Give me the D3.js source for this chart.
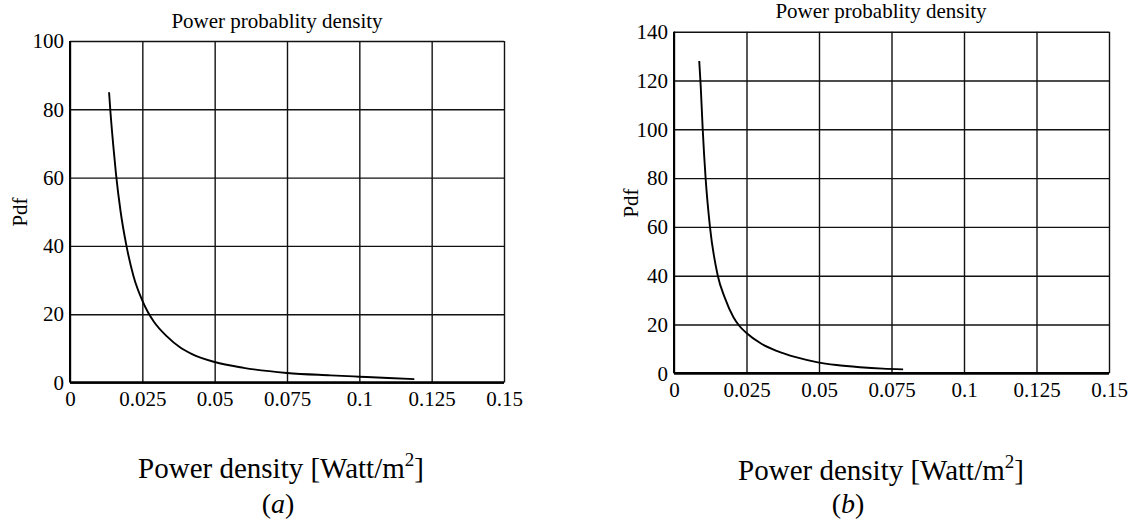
<!DOCTYPE html>
<html><head><meta charset="utf-8">
<script src="https://cdn.jsdelivr.net/npm/d3@7"></script>
<style>
body{margin:0;background:#fff}
svg{display:block}
text{font-family:"Liberation Serif","Times New Roman",serif;fill:#000}
</style>
</head><body>
<svg id="c" width="1129" height="523"></svg>
<script>
// ---- data ----
const xTicks = [0, 0.025, 0.05, 0.075, 0.1, 0.125, 0.15];
const xTickLabels = ["0", "0.025", "0.05", "0.075", "0.1", "0.125", "0.15"];
const yTicksA = [0, 20, 40, 60, 80, 100];
const yTicksB = [0, 20, 40, 60, 80, 100, 120, 140];

const powerA = [0.0135, 0.0140, 0.0150, 0.0159, 0.0175, 0.0194, 0.0220, 0.0250, 0.0270, 0.0290, 0.0335, 0.0380, 0.0420, 0.0500, 0.0600, 0.0750, 0.0900, 0.1000, 0.1100, 0.1190];
const pdfA   = [85, 79, 69, 61, 50, 40.5, 31, 24, 20.5, 17.8, 13.5, 10.3, 8.4, 6.0, 4.3, 2.8, 2.1, 1.7, 1.3, 1.0];

const powerB = [0.0087, 0.0092, 0.0099, 0.0109, 0.0124, 0.0151, 0.0175, 0.0205, 0.0225, 0.0250, 0.0300, 0.0354, 0.0420, 0.0492, 0.0560, 0.0641, 0.0720, 0.0790];
const pdfB   = [128, 118, 100, 80, 60, 40, 31, 23, 19.5, 16.5, 12.2, 9.2, 6.6, 4.6, 3.4, 2.5, 1.9, 1.6];

const titleText = "Power probablity density";
const yLabelText = "Pdf";
const xLabelText = "Power density [Watt/m";
const xLabelSup = "2";
const panelTags = ["a", "b"];

// ---- drawing ----
const SERIF = '"Liberation Serif","Times New Roman",serif';
const svg = d3.select("#c");

function panel(cfg) {
  const g = svg.append("g");
  const x = d3.scaleLinear().domain([0, 0.15]).range([cfg.x0, cfg.x1]);
  const y = d3.scaleLinear().domain([0, cfg.ymax]).range([cfg.yBot, cfg.yTop]);
  const w = cfg.x1 - cfg.x0, h = cfg.yBot - cfg.yTop;

  const gx = g.append("g").attr("transform", `translate(0,${cfg.yBot})`)
    .call(d3.axisBottom(x).tickValues(xTicks).tickSize(-h).tickPadding(9)
      .tickFormat((d, i) => xTickLabels[i]));
  const gy = g.append("g").attr("transform", `translate(${cfg.x0},0)`)
    .call(d3.axisLeft(y).tickValues(cfg.yTicks).tickSize(-w).tickPadding(6)
      .tickFormat(d => String(d)));
  [gx, gy].forEach(a => {
    a.attr("font-family", SERIF).attr("font-size", 21);
    a.select(".domain").remove();
    a.selectAll(".tick line").attr("stroke", "#111").attr("stroke-width", 1.4);
    a.selectAll(".tick text").style("font-family", SERIF)
      .style("font-size", "21px").attr("fill", "#000");
  });

  // frame axes (thicker)
  g.append("line").attr("x1", x(0)).attr("x2", x(0)).attr("y1", y(cfg.ymax)).attr("y2", y(0))
    .attr("stroke", "#000").attr("stroke-width", 2);
  g.append("line").attr("x1", x(0)).attr("x2", x(0.15)).attr("y1", y(0)).attr("y2", y(0))
    .attr("stroke", "#000").attr("stroke-width", 2.4);

  // curve
  const pts = cfg.px.map((p, i) => [p, cfg.py[i]]);
  g.append("path").datum(pts)
    .attr("fill", "none").attr("stroke", "#000").attr("stroke-width", 1.9)
    .attr("d", d3.line().x(d => x(d[0])).y(d => y(d[1])).curve(d3.curveMonotoneX));

  // title
  g.append("text").attr("x", cfg.titleX).attr("y", cfg.titleY).attr("text-anchor", "middle")
    .style("font-size", "21px").text(titleText);

  // y label
  g.append("text").attr("transform", `translate(${cfg.pdfX},${cfg.pdfY}) rotate(-90)`)
    .attr("text-anchor", "middle").style("font-size", "21px").text(yLabelText);

  // x label
  const xl = g.append("text").attr("x", cfg.xlX).attr("y", cfg.xlY).attr("text-anchor", "middle")
    .style("font-size", "29px");
  xl.append("tspan").text(xLabelText);
  xl.append("tspan").attr("dy", -12).style("font-size", "19px").text(xLabelSup);
  xl.append("tspan").attr("dy", 12).text("]");

  // panel tag
  const tg = g.append("text").attr("x", cfg.tagX).attr("y", cfg.tagY).attr("text-anchor", "middle")
    .style("font-size", "28px");
  tg.append("tspan").text("(");
  tg.append("tspan").style("font-style", "italic").text(cfg.tag);
  tg.append("tspan").text(")");
}

panel({x0: 70, x1: 504, yTop: 41, yBot: 382.5, ymax: 100, yTicks: yTicksA,
  px: powerA, py: pdfA, titleX: 277, titleY: 28, pdfX: 27, pdfY: 212,
  xlX: 281, xlY: 478, tagX: 278, tagY: 513, tag: panelTags[0]});

panel({x0: 674, x1: 1109, yTop: 31.7, yBot: 373.3, ymax: 140, yTicks: yTicksB,
  px: powerB, py: pdfB, titleX: 881, titleY: 18, pdfX: 638, pdfY: 203,
  xlX: 881, xlY: 480, tagX: 848, tagY: 513, tag: panelTags[1]});
</script>
</body></html>
